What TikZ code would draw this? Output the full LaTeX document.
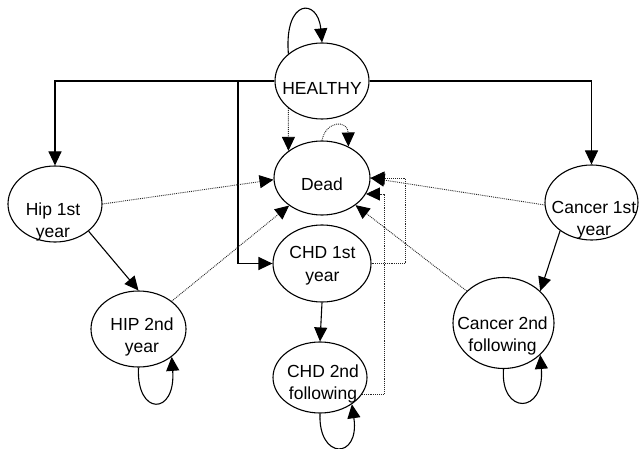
\documentclass[tikz,border=0pt]{standalone}
\usepackage{fontspec}
\setmainfont{Liberation Sans}
\usetikzlibrary{arrows.meta,shapes.geometric}
\begin{document}
\begin{tikzpicture}[x=1pt,y=-1pt,
  st/.style={draw,ellipse,line width=1.1pt,inner sep=0pt},
  lbl/.style={inner sep=0pt,align=center,font=\fontsize{17.5}{22.5}\selectfont},
  sol/.style={line width=1.1pt,-{Triangle[length=14pt,width=13pt]}},
  dot/.style={line width=0.9pt,densely dotted,black!85,-{Triangle[length=14pt,width=13pt,color=black]}}]
\path[use as bounding box,fill=white] (0,0) rectangle (642,449);
% ellipses
\node[st,minimum width=94pt,minimum height=76pt] (hea) at (322,81) {};
\node[st,minimum width=96pt,minimum height=74pt] (dead) at (322,178) {};
\node[st,minimum width=94pt,minimum height=76pt] (hip1) at (55,204) {};
\node[st,minimum width=95pt,minimum height=76pt] (hip2) at (138.5,329) {};
\node[st,minimum width=98pt,minimum height=77pt] (chd1) at (322,263.5) {};
\node[st,minimum width=94pt,minimum height=71pt] (chd2) at (320,377.5) {};
\node[st,minimum width=93pt,minimum height=75pt] (can1) at (591.5,202.5) {};
\node[st,minimum width=101pt,minimum height=91pt] (can2) at (503.5,323) {};
% labels
\node[lbl] (thea) at (322,88.5) {HEALTHY};
\node[lbl] (tdead) at (322,184) {Dead};
\node[lbl] (thip1) at (53,222) {Hip 1st\\year};
\node[lbl] (thip2) at (142,337) {HIP 2nd\\year};
\node[lbl] (tchd1) at (322.5,265.5) {CHD 1st\\year};
\node[lbl] (tchd2) at (323,384) {CHD 2nd\\following};
\node[lbl] (tcan1) at (594,220) {Cancer 1st\\year};
\node[lbl] (tcan2) at (502.5,336) {Cancer 2nd\\following};
% solid connectors
\coordinate (j1) at (238,82);
\draw[sol] (hea.west) -| (hip1.north);
\draw[sol] (j1) |- (chd1.west);
\draw[sol] (hea.east) -| (can1.north);
\draw[sol] (hip1.-39) -- (hip2.north);
\draw[sol] (can1.222) -- (can2.41);
\draw[sol] (chd1.south) -- (chd2.north);
% self loops
\draw[sol] (hea.141) .. controls (284,-2) and (318,-2) .. (hea.north);
\draw[sol] (hip2.south) .. controls (136,416) and (176,416) .. (hip2.-40);
\draw[sol] (chd2.south) .. controls (318,460) and (360,460) .. (chd2.-40);
\draw[sol] (can2.south) .. controls (500,415) and (545,415) .. (can2.-41);
% dotted connectors to Dead
\draw[dot] (hea.219) -- (dead.141);
\draw[dot] (dead.north) .. controls (326,120) and (348,120) .. (dead.50);
\draw[dot] (hip1.east) -- (dead.182);
\draw[dot] (hip2.40) -- (dead.220);
\draw[dot] (can1.183) -- (dead.east);
\draw[dot] (chd1.east) -- ++(34,0) |- (dead.east);
\coordinate (c2r) at (384,0);
\draw[dot] (chd2.-22) -| (c2r |- dead.-20) -- (dead.-20);
\draw[dot] (can2.139) -- (dead.-39);
\end{tikzpicture}
\end{document}
